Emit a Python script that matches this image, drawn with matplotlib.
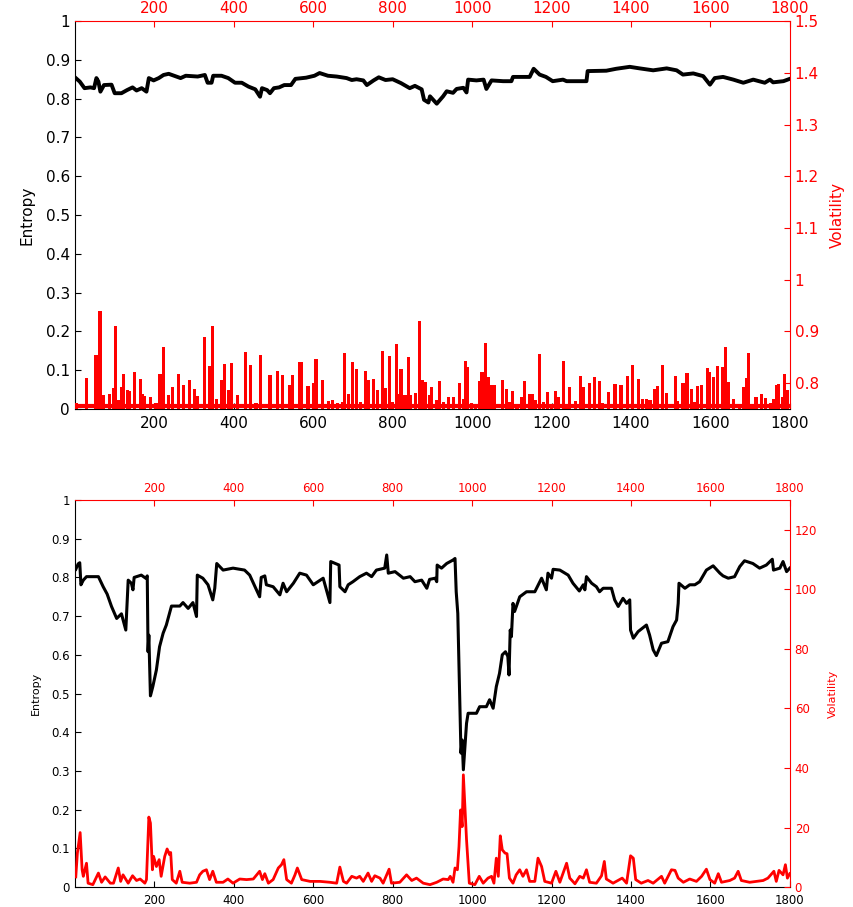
import matplotlib
matplotlib.use("Agg")
import matplotlib.pyplot as plt
import numpy as np

# ---- top panel: entropy (left axis) ----
top_ent_x = [2, 12, 24, 39, 48, 54, 59, 64, 73, 92, 100, 117, 131, 145, 155, 168, 180, 186, 198, 211,
             223, 236, 266, 279, 309, 327, 334, 344, 348, 369, 386, 403, 420, 437, 454, 466, 471, 484,
             491, 501, 514, 527, 544, 555, 582, 603, 616, 637, 659, 684, 697, 709, 726, 735, 752, 765,
             782, 800, 821, 843, 856, 873, 879, 890, 894, 911, 927, 936, 952, 961, 978, 986, 990, 1011,
             1029, 1036, 1049, 1078, 1099, 1103, 1145, 1155, 1170, 1186, 1203, 1229, 1238, 1288, 1291,
             1338, 1363, 1397, 1422, 1456, 1490, 1515, 1531, 1557, 1582, 1599, 1611, 1632, 1658, 1683,
             1708, 1737, 1750, 1758, 1784, 1800]
top_ent = [0.853, 0.844, 0.827, 0.829, 0.827, 0.853, 0.844, 0.818, 0.835, 0.836, 0.814, 0.814, 0.822,
           0.829, 0.821, 0.827, 0.818, 0.853, 0.847, 0.853, 0.861, 0.864, 0.853, 0.859, 0.857, 0.861,
           0.841, 0.841, 0.859, 0.859, 0.853, 0.841, 0.841, 0.831, 0.824, 0.805, 0.827, 0.822, 0.814,
           0.827, 0.829, 0.835, 0.835, 0.851, 0.854, 0.859, 0.866, 0.859, 0.857, 0.853, 0.848, 0.850,
           0.847, 0.835, 0.847, 0.855, 0.848, 0.850, 0.840, 0.827, 0.833, 0.824, 0.797, 0.790, 0.806,
           0.787, 0.806, 0.819, 0.815, 0.825, 0.828, 0.816, 0.849, 0.847, 0.849, 0.825, 0.847, 0.845,
           0.845, 0.856, 0.856, 0.877, 0.862, 0.856, 0.845, 0.849, 0.845, 0.845, 0.871, 0.872, 0.877,
           0.882, 0.878, 0.873, 0.878, 0.873, 0.862, 0.865, 0.858, 0.836, 0.853, 0.856, 0.849, 0.841,
           0.849, 0.841, 0.849, 0.842, 0.845, 0.851]

# ---- top panel: volatility spikes (right axis) ----
top_vol_x = [4, 29, 53, 63, 71, 86, 96, 102, 110, 118, 123, 132, 138, 149, 164, 171, 176, 191, 204, 214,
             222, 235, 246, 260, 274, 288, 301, 308, 326, 338, 347, 357, 368, 376, 386, 394, 409, 429,
             441, 456, 468, 491, 509, 523, 540, 548, 565, 569, 587, 600, 607, 623, 638, 648, 661, 674,
             679, 689, 698, 709, 720, 732, 738, 752, 761, 774, 782, 791, 799, 809, 814, 821, 831, 839,
             845, 857, 867, 875, 882, 892, 898, 910, 917, 929, 940, 954, 969, 978, 984, 989, 999, 1009,
             1020, 1025, 1034, 1040, 1049, 1057, 1077, 1086, 1093, 1102, 1113, 1124, 1131, 1144, 1151,
             1159, 1170, 1179, 1190, 1201, 1211, 1217, 1231, 1238, 1246, 1261, 1274, 1281, 1295, 1309,
             1321, 1329, 1343, 1360, 1375, 1392, 1403, 1419, 1429, 1440, 1448, 1459, 1467, 1480, 1490,
             1512, 1518, 1531, 1541, 1552, 1561, 1568, 1577, 1593, 1598, 1607, 1619, 1630, 1638, 1646,
             1658, 1673, 1684, 1690, 1697, 1705, 1715, 1729, 1739, 1751, 1759, 1766, 1771, 1781, 1787,
             1794]
top_vol = [0.762, 0.81, 0.855, 0.94, 0.777, 0.78, 0.79, 0.91, 0.767, 0.793, 0.817, 0.787, 0.785, 0.822,
           0.808, 0.78, 0.776, 0.774, 0.761, 0.818, 0.87, 0.778, 0.793, 0.818, 0.797, 0.806, 0.789,
           0.776, 0.89, 0.833, 0.91, 0.77, 0.806, 0.838, 0.787, 0.839, 0.777, 0.86, 0.835, 0.761, 0.855,
           0.815, 0.824, 0.815, 0.797, 0.815, 0.84, 0.84, 0.794, 0.80, 0.846, 0.806, 0.766, 0.767, 0.761,
           0.763, 0.859, 0.78, 0.84, 0.827, 0.764, 0.823, 0.806, 0.808, 0.787, 0.862, 0.79, 0.852, 0.764,
           0.875, 0.78, 0.827, 0.777, 0.85, 0.777, 0.782, 0.921, 0.806, 0.802, 0.778, 0.793, 0.767,
           0.805, 0.764, 0.774, 0.774, 0.801, 0.77, 0.842, 0.832, 0.761, 0.758, 0.805, 0.822, 0.878,
           0.811, 0.797, 0.797, 0.806, 0.788, 0.764, 0.785, 0.755, 0.774, 0.804, 0.779, 0.78, 0.767,
           0.857, 0.764, 0.783, 0.758, 0.785, 0.774, 0.842, 0.758, 0.792, 0.766, 0.814, 0.792, 0.80,
           0.812, 0.804, 0.762, 0.783, 0.798, 0.797, 0.814, 0.835, 0.809, 0.769, 0.77, 0.767, 0.788,
           0.794, 0.835, 0.782, 0.814, 0.766, 0.80, 0.82, 0.788, 0.764, 0.795, 0.797, 0.83, 0.822, 0.812,
           0.833, 0.832, 0.87, 0.803, 0.77, 0.76, 0.792, 0.81, 0.858, 0.755, 0.774, 0.779, 0.772, 0.762,
           0.77, 0.797, 0.798, 0.774, 0.818, 0.787]

# ---- bottom panel: entropy (left axis) ----
bot_ent_x = [2, 8, 12, 15, 21, 29, 59, 71, 81, 92, 105, 117, 128, 134, 142, 146, 149, 167, 178, 182,
             184, 186, 190, 196, 205, 213, 222, 230, 243, 264, 272, 285, 297, 306, 308, 322, 335, 347,
             352, 357, 373, 398, 427, 440, 457, 465, 469, 478, 482, 499, 516, 524, 533, 550, 566, 583,
             600, 625, 642, 644, 665, 667, 680, 688, 700, 717, 734, 747, 759, 780, 785, 789, 806, 827,
             844, 856, 873, 886, 893, 907, 911, 912, 923, 936, 952, 957, 960, 964, 967, 972, 975, 978,
             986, 990, 1011, 1019, 1036, 1044, 1053, 1061, 1069, 1076, 1084, 1090, 1093, 1096, 1099,
             1103, 1107, 1120, 1137, 1158, 1175, 1187, 1191, 1200, 1204, 1221, 1242, 1254, 1270, 1280,
             1284, 1288, 1301, 1313, 1321, 1330, 1351, 1359, 1368, 1380, 1389, 1397, 1399, 1406, 1418,
             1439, 1447, 1456, 1464, 1477, 1493, 1506, 1515, 1519, 1521, 1536, 1548, 1561, 1573, 1590,
             1607, 1624, 1632, 1645, 1661, 1674, 1686, 1707, 1724, 1741, 1756, 1759, 1775, 1783, 1792,
             1800]
bot_ent = [0.821, 0.835, 0.838, 0.781, 0.793, 0.802, 0.802, 0.776, 0.757, 0.725, 0.694, 0.706, 0.664,
           0.793, 0.785, 0.768, 0.800, 0.806, 0.798, 0.804, 0.608, 0.651, 0.494, 0.518, 0.561, 0.621,
           0.656, 0.677, 0.726, 0.726, 0.735, 0.720, 0.735, 0.699, 0.806, 0.798, 0.781, 0.742, 0.772,
           0.836, 0.819, 0.824, 0.819, 0.806, 0.768, 0.750, 0.800, 0.804, 0.781, 0.776, 0.755, 0.785,
           0.763, 0.785, 0.811, 0.806, 0.781, 0.798, 0.735, 0.841, 0.832, 0.776, 0.763, 0.781, 0.789,
           0.802, 0.811, 0.802, 0.819, 0.824, 0.858, 0.811, 0.815, 0.798, 0.802, 0.789, 0.793, 0.772,
           0.795, 0.798, 0.789, 0.832, 0.824, 0.836, 0.845, 0.849, 0.763, 0.707, 0.570, 0.346, 0.380,
           0.303, 0.423, 0.449, 0.449, 0.466, 0.466, 0.484, 0.462, 0.518, 0.552, 0.600, 0.608, 0.596,
           0.548, 0.664, 0.647, 0.733, 0.712, 0.750, 0.763, 0.763, 0.798, 0.768, 0.811, 0.798, 0.821,
           0.819, 0.806, 0.785, 0.765, 0.781, 0.768, 0.802, 0.785, 0.776, 0.763, 0.772, 0.772, 0.742,
           0.725, 0.746, 0.733, 0.742, 0.664, 0.643, 0.660, 0.677, 0.651, 0.613, 0.598, 0.630, 0.634,
           0.673, 0.690, 0.733, 0.785, 0.772, 0.781, 0.781, 0.789, 0.819, 0.830, 0.811, 0.804, 0.798,
           0.802, 0.828, 0.843, 0.836, 0.824, 0.832, 0.847, 0.819, 0.824, 0.841, 0.815, 0.824]

# ---- bottom panel: volatility (right axis) ----
bot_vol_x = [2, 6, 13, 18, 21, 29, 33, 45, 59, 67, 76, 89, 97, 109, 115, 121, 134, 145, 155, 164, 176,
             180, 186, 190, 195, 198, 205, 212, 217, 226, 232, 238, 241, 245, 255, 264, 270, 289, 306,
             314, 322, 331, 339, 347, 356, 373, 385, 398, 415, 432, 449, 465, 472, 478, 487, 499, 512,
             520, 526, 533, 545, 554, 560, 571, 592, 617, 642, 659, 667, 676, 684, 697, 709, 717, 726,
             738, 747, 755, 768, 776, 791, 797, 818, 835, 848, 860, 877, 894, 911, 927, 940, 945, 952,
             957, 963, 967, 971, 975, 978, 982, 986, 993, 1007, 1018, 1028, 1040, 1049, 1055, 1061,
             1066, 1071, 1076, 1083, 1088, 1094, 1103, 1111, 1120, 1128, 1137, 1145, 1158, 1166, 1175,
             1183, 1200, 1211, 1221, 1238, 1246, 1259, 1271, 1280, 1288, 1296, 1313, 1326, 1333, 1338,
             1355, 1378, 1389, 1399, 1406, 1412, 1426, 1443, 1456, 1477, 1485, 1502, 1511, 1519, 1532,
             1548, 1565, 1578, 1590, 1599, 1611, 1620, 1628, 1649, 1661, 1670, 1678, 1699, 1716, 1733,
             1745, 1760, 1766, 1773, 1779, 1783, 1789, 1794, 1800]
bot_vol = [3.4, 11.4, 18.3, 5.8, 3.6, 8.0, 1.3, 0.8, 4.7, 1.6, 3.4, 1.3, 1.3, 6.4, 1.9, 4.1, 1.3, 3.8,
           2.2, 2.7, 1.3, 2.5, 23.5, 21.5, 5.8, 10.3, 6.9, 9.2, 3.6, 10.3, 12.8, 10.9, 11.6, 2.5, 1.3,
           5.3, 1.6, 1.3, 1.6, 4.1, 5.3, 5.8, 2.5, 5.3, 1.6, 1.6, 2.7, 1.3, 2.7, 2.5, 2.7, 5.3, 2.5,
           4.5, 1.3, 2.5, 6.4, 7.5, 9.2, 2.5, 1.3, 4.1, 6.4, 2.5, 1.9, 1.9, 1.6, 1.3, 6.7, 1.9, 1.3,
           3.6, 3.0, 3.6, 1.9, 4.7, 1.9, 3.8, 3.0, 1.3, 6.0, 1.3, 1.6, 4.1, 2.2, 3.0, 1.3, 0.8, 1.6,
           2.7, 2.5, 3.6, 1.6, 6.4, 5.8, 13.6, 25.9, 20.3, 37.7, 27.0, 15.9, 1.3, 0.8, 3.6, 1.3, 3.0,
           3.6, 1.3, 9.7, 3.6, 17.2, 12.5, 11.4, 11.2, 3.0, 1.3, 4.1, 5.8, 3.6, 5.8, 1.9, 1.9, 9.7,
           6.9, 1.9, 1.3, 5.3, 1.6, 8.0, 3.0, 1.1, 3.6, 3.0, 5.8, 1.6, 1.3, 3.8, 8.6, 2.7, 1.3, 3.0,
           1.3, 10.5, 9.7, 2.5, 1.3, 2.2, 1.3, 3.6, 1.3, 5.8, 5.6, 3.0, 1.6, 2.7, 1.9, 3.6, 6.0, 2.5,
           1.3, 4.5, 1.6, 2.2, 3.0, 5.3, 2.2, 1.6, 1.9, 2.2, 3.0, 5.3, 1.9, 5.6, 4.7, 4.1, 7.5, 3.0,
           4.5]

xticks = [200, 400, 600, 800, 1000, 1200, 1400, 1600, 1800]

plt.rcParams['xtick.direction'] = 'in'
plt.rcParams['ytick.direction'] = 'in'

fig = plt.figure(figsize=(8.54, 9.07), dpi=100)


def setup_pair(rect, ylim2, yticks2, fs, lab_fs, lab_pad):
    ax = fig.add_axes(rect)
    ax2 = fig.add_axes(rect, frameon=False)
    ax.set_xlim(0, 1800)
    ax.set_ylim(0, 1)
    ax.set_xticks(xticks)
    ax.set_yticks(np.arange(0, 1.01, 0.1))
    ax.set_yticklabels(['0', '0.1', '0.2', '0.3', '0.4', '0.5', '0.6', '0.7', '0.8', '0.9', '1'])
    ax.tick_params(labelsize=fs, length=4, top=False, right=False)
    ax.tick_params(axis='x', pad=5)
    ax.spines['top'].set_color('red')
    ax.spines['right'].set_color('red')
    ax.set_ylabel('Entropy', fontsize=lab_fs, labelpad=lab_pad)

    ax2.set_xlim(0, 1800)
    ax2.set_ylim(*ylim2)
    ax2.set_xticks(xticks)
    ax2.set_yticks(yticks2)
    ax2.xaxis.tick_top()
    ax2.yaxis.tick_right()
    ax2.yaxis.set_label_position('right')
    ax2.tick_params(colors='red', labelsize=fs, length=4)
    ax2.set_ylabel('Volatility', color='red', fontsize=lab_fs, labelpad=lab_pad)
    return ax, ax2


# top panel
ax, ax2 = setup_pair([0.0878, 0.549, 0.837, 0.4278], (0.75, 1.5),
                     [0.8, 0.9, 1.0, 1.1, 1.2, 1.3, 1.4, 1.5], 11, 11, 8)
ax2.set_yticklabels(['0.8', '0.9', '1', '1.1', '1.2', '1.3', '1.4', '1.5'])
ax.plot(top_ent_x, top_ent, color='black', lw=2.8)
ax2.bar(top_vol_x, np.array(top_vol) - 0.75, bottom=0.75, width=8, color='red')
ax2.axhline(0.756, color='red', lw=3)

# bottom panel
bx, bx2 = setup_pair([0.0878, 0.022, 0.837, 0.4267], (0, 130),
                     [0, 20, 40, 60, 80, 100, 120], 8.5, 8, 8)
bx.plot(bot_ent_x, bot_ent, color='black', lw=2.2)
bx2.plot(bot_vol_x, bot_vol, color='red', lw=2.0)

fig.savefig('out.png', dpi=100)
